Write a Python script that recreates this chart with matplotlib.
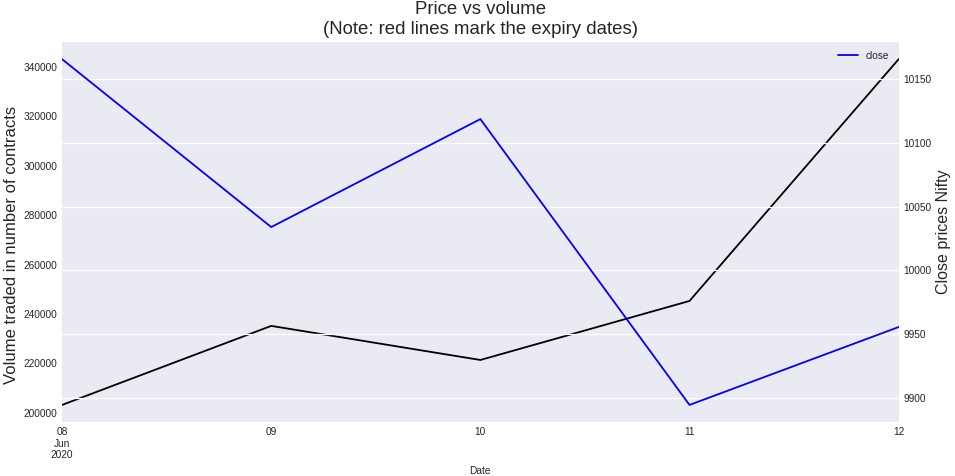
import matplotlib
matplotlib.use("Agg")
import matplotlib.pyplot as plt
import pandas as pd

plt.style.use("seaborn-v0_8-darkgrid")
plt.rcParams['font.family'] = ['Liberation Sans', 'DejaVu Sans']

dates = ["2020-06-08", "2020-06-09", "2020-06-10", "2020-06-11", "2020-06-12"]
volume = [203200, 235200, 221400, 245300, 343200]
close = [10165.7, 10034.0, 10118.7, 9894.5, 9955.6]

df = pd.DataFrame({"volume": volume, "close": close}, index=pd.DatetimeIndex(dates, name="Date"))

fig, ax = plt.subplots(figsize=(9.55, 4.76), dpi=100)
fig.subplots_adjust(left=0.065, right=0.941, top=0.912, bottom=0.113)

df["volume"].plot(ax=ax, color="k", lw=1.3)
ax.grid(False)
ax.set_ylabel("Volume traded in number of contracts", fontsize=12)
ax.yaxis.set_label_coords(-0.052, 0.465)
ax.set_xlabel("Date", fontsize=7.3, labelpad=4)

ax2 = ax.twinx()
df["close"].plot(ax=ax2, color="b", lw=1.3)
ax2.grid(True, axis="y", color="white", lw=0.9)
ax2.grid(False, axis="x")
ax2.set_ylabel("Close prices Nifty", fontsize=11.5)
ax2.yaxis.set_label_coords(1.045, 0.5)
ax2.legend(loc="upper right", fontsize=7.3)

for a in (ax, ax2):
    a.tick_params(which="both", labelsize=7.3)
    for s in a.spines.values():
        s.set_visible(False)

ax.set_title("Price vs volume\n(Note: red lines mark the expiry dates)", fontsize=13.4)

fig.savefig("out.png", dpi=100)
